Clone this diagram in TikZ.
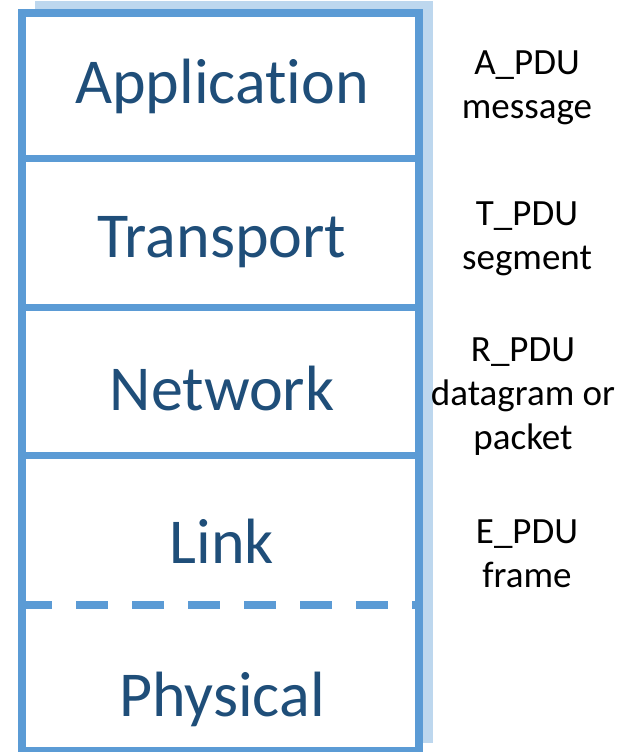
\documentclass[tikz,border=0pt]{standalone}
\usepackage{fontspec}
\setmainfont[Ligatures=NoCommon]{Carlito}
\definecolor{framebl}{HTML}{5B9BD5}
\definecolor{shadowbl}{HTML}{BDD7EE}
\definecolor{layertxt}{HTML}{1F4E79}
\begin{document}
\begin{tikzpicture}[
            x=1pt,
            y=-1pt,
            layer/.style={
                anchor=base,
                inner sep=0pt,
                text=layertxt,
                font=\fontsize{64}{70}\selectfont
            },
            pdu/.style={
                anchor=base,
                align=center,
                inner sep=0pt,
                font=\fontsize{37}{44}\selectfont
            },
            divider/.style={framebl, line width=7pt}
        ]
            \useasboundingbox (0,0) rectangle (631,752);

            % stack outline with its shadow
            \fill[shadowbl] (35,1) rectangle (433,743);
            \draw[framebl, line width=8pt, fill=white] (21.5,13) rectangle (419,751);

            \coordinate (l1) at (21.5,158);
            \coordinate (r1) at (419,158);
            \coordinate (l2) at (21.5,307);
            \coordinate (r2) at (419,307);
            \coordinate (l3) at (21.5,455);
            \coordinate (r3) at (419,455);
            \coordinate (l4) at (21.5,605);
            \coordinate (r4) at (419,605);

            \draw[divider] (l1)--(r1);
            \draw[divider] (l2)--(r2);
            \draw[divider] (l3)--(r3);
            \draw[framebl, line width=8pt, dash pattern=on 32pt off 24pt, dash phase=1.5pt] (l4)--(r4);

            % layer names
            \node[layer] (app) at (222,103.5) {Application};
            \node[layer] (trans) at (222,257) {Transport};
            \node[layer] (net) at (222,410.5) {Network};
            \node[layer] (link) at (222,563.5) {Link};
            \node[layer] (phys) at (222,716.5) {Physical};

            % data units (base = last line)
            \node[pdu] (apdu) at (527,118.5) {A\_PDU\\message};
            \node[pdu] (tpdu) at (527,269.5) {T\_PDU\\segment};
            \node[pdu] (rpdu) at (523,449) {R\_PDU\\datagram or\\packet};
            \node[pdu] (epdu) at (527,587.5) {E\_PDU\\frame};
        \end{tikzpicture}
\end{document}
